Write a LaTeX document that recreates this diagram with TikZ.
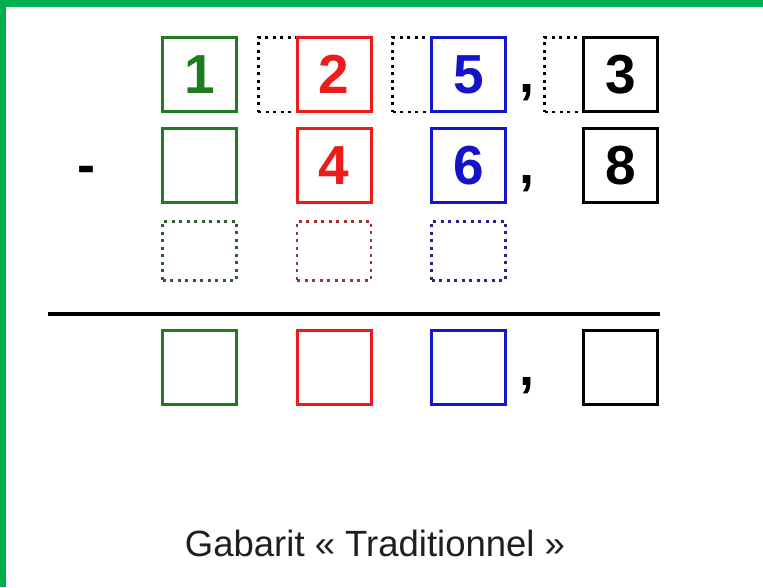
\documentclass[tikz,border=0pt]{standalone}
\usepackage{fontspec}
\setmainfont{Liberation Sans}
\usetikzlibrary{positioning}
\definecolor{gabborder}{HTML}{00B050}
\definecolor{gabgreen}{HTML}{1E7B1E}
\definecolor{gabred}{HTML}{EC1C1C}
\definecolor{gabblue}{HTML}{1414C8}
\definecolor{gabdkgreen}{HTML}{2E5E2E}
\definecolor{gabdkred}{HTML}{A03434}
\definecolor{gabdkblue}{HTML}{26268C}
\tikzset{
    digit/.style={draw,line width=3pt,minimum width=74pt,minimum height=74pt,inner sep=0pt,font=\bfseries\fontsize{55}{55}\selectfont},
    spare/.style={draw,line width=2.5pt,dash pattern=on 3pt off 4.5pt,minimum width=74pt,minimum height=59pt,inner sep=0pt},
    carry/.style={draw=black,line width=2.5pt,dash pattern=on 3pt off 4.5pt,minimum width=39pt,minimum height=74.5pt,inner sep=0pt},
    sign/.style={anchor=base,inner sep=0pt,font=\bfseries\fontsize{54}{54}\selectfont},
}

\begin{document}
\begin{tikzpicture}[x=1pt,y=-1pt]
    \useasboundingbox (0,0) rectangle (763,587);
    \fill[white] (0,0) rectangle (763,587);
    \fill[gabborder] (0,0) rectangle (763,7);
    \fill[gabborder] (0,0) rectangle (6,587);
    \node[carry] (c1) at (277.75,74.5) {};
    \node[carry] (c2) at (412,74.5) {};
    \node[carry] (c3) at (564,74.5) {};
    \node[digit,draw=gabgreen,text=gabgreen] (g1) at (199.5,74.5) {1};
    \node[digit,draw=gabred,text=gabred] (r1) at (334,74.5) {2};
    \node[digit,draw=gabblue,text=gabblue] (b1) at (468.5,74.5) {5};
    \node[digit,draw=black] (k1) at (620.5,74.5) {3};
    \node[sign] (v1) at (527,92.5) {,};
    \node[digit,draw=gabgreen,below=14pt of g1] (g2) {};
    \node[digit,draw=gabred,text=gabred,below=14pt of r1] (r2) {4};
    \node[digit,draw=gabblue,text=gabblue,below=14pt of b1] (b2) {6};
    \node[digit,draw=black,below=14pt of k1] (k2) {8};
    \node[sign] (v2) at (527,183.5) {,};
    \node[sign] (minus) at (86,183.5) {-};
    \node[spare,draw=gabdkgreen,below=16pt of g2] (g3) {};
    \node[spare,draw=gabdkred,below=16pt of r2] (r3) {};
    \node[spare,draw=gabdkblue,below=16pt of b2] (b3) {};
    \coordinate (ruleL) at (48,314);
    \coordinate (ruleR) at (660,314);
    \draw[line width=4pt] (ruleL) -- (ruleR);
    \node[digit,draw=gabgreen] (g4) at (199.5,367) {};
    \node[digit,draw=gabred] (r4) at (334,367) {};
    \node[digit,draw=gabblue] (b4) at (468.5,367) {};
    \node[digit,draw=black] (k4) at (620.5,367) {};
    \node[sign] (v4) at (527,385) {,};
    \node[anchor=base,inner sep=0pt,font=\fontsize{36.5}{36.5}\selectfont,text=black!88] (caption) at (375,556) {Gabarit « Traditionnel »};
\end{tikzpicture}
\end{document}
